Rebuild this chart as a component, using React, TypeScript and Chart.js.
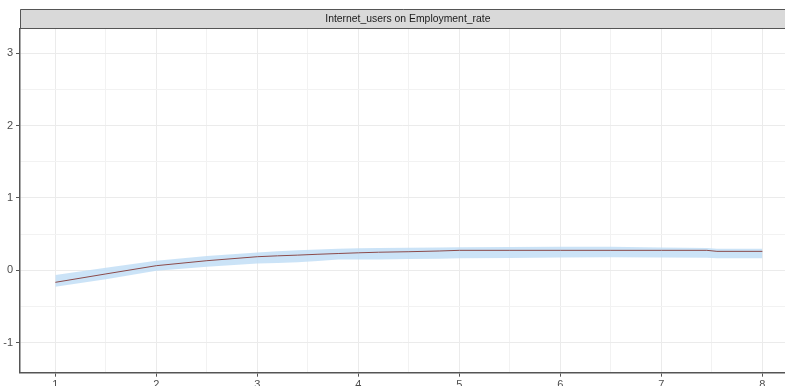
import React, { useEffect, useRef } from "react";
import { Chart, registerables } from "chart.js";

Chart.register(...registerables);

const stripTitle = "Internet_users on Employment_rate";
const xGrid = [1, 1.5, 2, 2.5, 3, 3.2, 3.4, 3.6, 3.8, 4, 4.2, 4.5, 4.8, 5, 5.5, 6, 6.5, 7, 7.45, 7.55, 8];
const estimate = [-0.166, -0.05, 0.064, 0.133, 0.188, 0.2, 0.21, 0.222, 0.232, 0.242, 0.25, 0.257, 0.267, 0.276, 0.276, 0.276, 0.276, 0.276, 0.276, 0.262, 0.262];
const upper = [-0.065, 0.036, 0.133, 0.198, 0.245, 0.262, 0.277, 0.288, 0.298, 0.306, 0.31, 0.312, 0.314, 0.318, 0.322, 0.326, 0.326, 0.315, 0.308, 0.298, 0.298];
const lower = [-0.226, -0.124, -0.005, 0.05, 0.095, 0.1, 0.11, 0.128, 0.15, 0.15, 0.15, 0.155, 0.16, 0.166, 0.17, 0.178, 0.18, 0.176, 0.174, 0.166, 0.166];
const yTicks = [-1, -0.5, 0, 0.5, 1, 1.5, 2, 2.5, 3];
const xTicks = [1, 1.5, 2, 2.5, 3, 3.5, 4, 4.5, 5, 5.5, 6, 6.5, 7, 7.5, 8];

const pts = (ys: number[]) => xGrid.map((x, i) => ({ x, y: ys[i] }));

const stripPlugin = {
  id: "strip",
  beforeDraw(chart: any) {
    const { ctx, chartArea } = chart;
    const xs = chart.scales.x;
    ctx.save();
    ctx.fillStyle = "#d9d9d9";
    ctx.fillRect(chartArea.left, 9, chartArea.right - chartArea.left + 20, chartArea.top - 9);
    ctx.strokeStyle = "#555555";
    ctx.lineWidth = 1;
    ctx.beginPath();
    ctx.moveTo(chartArea.right + 20, 9.5);
    ctx.lineTo(chartArea.left + 0.5, 9.5);
    ctx.lineTo(chartArea.left + 0.5, chartArea.top);
    ctx.moveTo(chartArea.left, chartArea.top - 0.5);
    ctx.lineTo(chartArea.right + 20, chartArea.top - 0.5);
    ctx.stroke();
    ctx.fillStyle = "#1a1a1a";
    ctx.font = "10.4px 'Liberation Sans', Arial, sans-serif";
    ctx.textAlign = "center";
    ctx.textBaseline = "middle";
    ctx.fillText(stripTitle, xs.getPixelForValue(4.5) - 1, (9 + chartArea.top) / 2 + 0.5);
    ctx.restore();
  },
};

export default function App() {
  const ref = useRef<HTMLCanvasElement>(null);
  useEffect(() => {
    document.body.style.margin = "0";
    document.body.style.overflow = "hidden";
    const chart = new Chart(ref.current!, {
      type: "line",
      data: {
        datasets: [
          {
            label: "upper",
            data: pts(upper),
            borderWidth: 0,
            pointRadius: 0,
            backgroundColor: "rgba(190,220,245,0.8)",
            fill: "+1",
            order: 2,
          },
          {
            label: "lower",
            data: pts(lower),
            borderWidth: 0,
            pointRadius: 0,
            fill: false,
            order: 1,
          },
          {
            label: "estimate",
            data: pts(estimate),
            borderColor: "#8b4a4a",
            borderWidth: 1,
            pointRadius: 0,
            fill: false,
            order: 0,
          },
        ],
      },
      options: {
        animation: false,
        responsive: false,
        layout: { padding: { top: 29, left: 0, right: 0, bottom: 0 } },
        plugins: { legend: { display: false }, tooltip: { enabled: false } },
        scales: {
          x: {
            type: "linear",
            min: 0.65,
            max: 8.224,
            afterBuildTicks: (s: any) => {
              s.ticks = xTicks.map((v) => ({ value: v }));
            },
            afterFit: (s: any) => {
              s.height = 13.3;
            },
            grid: {
              color: (c: any) => (Number.isInteger(c.tick?.value) ? "#ebebeb" : "#f2f2f2"),
              tickColor: (c: any) => (Number.isInteger(c.tick?.value) ? "#555555" : "rgba(0,0,0,0)"),
              tickLength: 4,
              drawTicks: true,
            },
            border: { display: true, color: "#555555", width: 1.5 },
            ticks: {
              autoSkip: false,
              maxRotation: 0,
              padding: 2,
              color: "#4d4d4d",
              font: { family: "'Liberation Sans', Arial, sans-serif", size: 11 },
              callback: (v: any) => (Number.isInteger(v) ? String(v) : ""),
            },
          },
          y: {
            type: "linear",
            min: -1.415,
            max: 3.335,
            afterBuildTicks: (s: any) => {
              s.ticks = yTicks.map((v) => ({ value: v }));
            },
            afterFit: (s: any) => {
              s.width = 20;
            },
            grid: {
              color: (c: any) => (Number.isInteger(c.tick?.value) ? "#ebebeb" : "#f2f2f2"),
              tickColor: (c: any) => (Number.isInteger(c.tick?.value) ? "#555555" : "rgba(0,0,0,0)"),
              tickLength: 4,
            },
            border: { display: true, color: "#555555", width: 1.5 },
            ticks: {
              autoSkip: false,
              padding: 3,
              color: "#4d4d4d",
              font: { family: "'Liberation Sans', Arial, sans-serif", size: 11 },
              callback: (v: any) => (Number.isInteger(v) ? String(v) : ""),
            },
          },
        },
      },
      plugins: [stripPlugin],
    });
    return () => chart.destroy();
  }, []);
  return <canvas ref={ref} width={785} height={386} style={{ display: "block" }} />;
}
